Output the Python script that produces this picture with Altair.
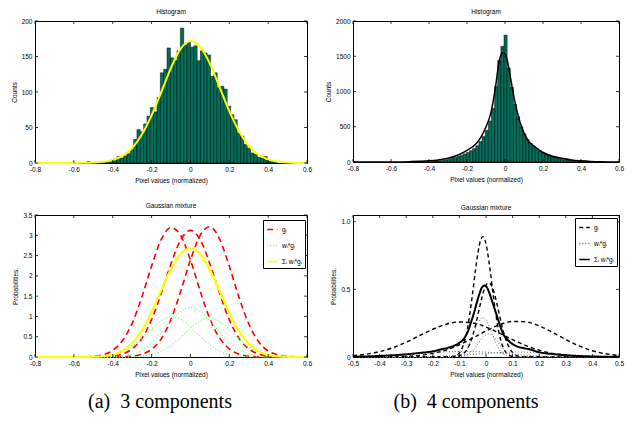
import altair as alt
import pandas as pd
import numpy as np

SANS = "Liberation Sans"
SERIF = "Liberation Serif"
FS = 6.5

# ---------------- (a) histogram ----------------
a_bin_width = 0.0172
a_first_center = -0.5246
a_counts = [2, 0, 1, 1, 2, 2, 3, 4, 6,
            9, 7, 10, 13, 19, 33, 47, 44, 55, 66, 78, 72, 92, 127, 132, 162, 148, 144, 158,
            190,
            166, 170, 163, 165, 144, 158, 155, 152, 122, 127, 106, 108, 104, 80, 68, 61, 42, 38,
            26, 21, 14, 12, 8, 7, 9, 5, 3, 2]
a_fit_x = [-0.8, -0.75, -0.7, -0.65, -0.6, -0.55, -0.5, -0.45, -0.4, -0.35, -0.3, -0.25, -0.2,
           -0.15, -0.1, -0.05, 0.0, 0.05, 0.1, 0.15, 0.2, 0.25, 0.3, 0.35, 0.4, 0.45, 0.5, 0.55, 0.6]
a_fit_y = [0, 0, 0, 0, 0, 0.2, 0.6, 1.6, 4.3, 10, 21, 40, 67,
           100, 134, 161, 172, 164, 140, 107, 73, 45, 24, 12, 5, 2, 0.6, 0.1, 0]

# ---------------- (b) histogram ----------------
b_bin_width = 0.0165
b_first_center = -0.492
b_counts = [2, 3, 4, 5, 6, 8, 10, 12, 15, 18, 22,
            30, 38, 50, 62, 78, 95, 115, 135, 160, 190, 230, 290, 360, 450, 580, 760, 1070, 1440, 1640,
            1800,
            1330, 1060, 820, 640, 500, 400, 320, 265, 225, 190, 155, 128, 105, 88, 72, 60, 50, 40, 33, 27,
            22, 17, 13, 10, 8, 6, 4, 3, 2, 1]
b_fit_x = [-0.8, -0.6, -0.5, -0.45, -0.4, -0.35, -0.3, -0.25, -0.2, -0.15, -0.125, -0.1, -0.075,
           -0.05, -0.03, -0.01, 0.01, 0.03, 0.05, 0.075, 0.1, 0.125, 0.15, 0.2, 0.25, 0.3, 0.35,
           0.4, 0.45, 0.5, 0.6]
b_fit_y = [0, 1, 5, 10, 17, 30, 52, 95, 165, 265, 360, 500, 690,
           1060, 1440, 1550, 1460, 1180, 880, 600, 410, 290, 230, 135, 82, 52, 30,
           17, 8, 3, 0]

# ---------------- (a) Gaussian mixture, 3 components ----------------
c_x = [-0.8, -0.75, -0.7, -0.65, -0.6, -0.55, -0.5, -0.45, -0.4, -0.35, -0.3, -0.25, -0.2,
       -0.15, -0.1, -0.05, 0.0, 0.05, 0.1, 0.15, 0.2, 0.25, 0.3, 0.35, 0.4, 0.45, 0.5, 0.55, 0.6]
c_g1 = [0, 0, 0, 0, 0, 0.003, 0.016, 0.057, 0.163, 0.40, 0.83, 1.48, 2.24, 2.90, 3.19, 2.99,
        2.39, 1.63, 0.94, 0.47, 0.20, 0.07, 0.02, 0.005, 0, 0, 0, 0, 0]
c_g2 = [0, 0, 0, 0, 0, 0, 0.0015, 0.006, 0.024, 0.075, 0.20, 0.46, 0.92, 1.57, 2.30, 2.89,
        3.12, 2.89, 2.30, 1.57, 0.92, 0.46, 0.20, 0.075, 0.024, 0.006, 0.0015, 0, 0]
c_g3 = [0, 0, 0, 0, 0, 0, 0, 0, 0, 0.005, 0.02, 0.07, 0.19, 0.45, 0.93, 1.62,
        2.39, 3.00, 3.21, 2.91, 2.24, 1.47, 0.82, 0.38, 0.15, 0.055, 0.015, 0.004, 0]
c_w1 = [0, 0, 0, 0, 0, 0.001, 0.005, 0.018, 0.05, 0.124, 0.257, 0.459, 0.694, 0.90, 0.99, 0.927,
        0.741, 0.505, 0.291, 0.146, 0.062, 0.022, 0.006, 0.002, 0, 0, 0, 0, 0]
c_w2 = [0, 0, 0, 0, 0, 0, 0.001, 0.002, 0.009, 0.029, 0.078, 0.179, 0.359, 0.612, 0.897, 1.127,
        1.217, 1.127, 0.897, 0.612, 0.359, 0.179, 0.078, 0.029, 0.009, 0.002, 0.001, 0, 0]
c_w3 = [0, 0, 0, 0, 0, 0, 0, 0, 0, 0.002, 0.006, 0.021, 0.057, 0.135, 0.279, 0.486,
        0.717, 0.90, 0.963, 0.873, 0.672, 0.441, 0.246, 0.114, 0.045, 0.017, 0.005, 0.001, 0]
c_sum = [0, 0, 0, 0, 0, 0.001, 0.006, 0.02, 0.059, 0.155, 0.341, 0.659, 1.11, 1.647, 2.166, 2.54,
         2.675, 2.532, 2.151, 1.631, 1.093, 0.642, 0.33, 0.145, 0.054, 0.019, 0.006, 0.001, 0]

# ---------------- (b) Gaussian mixture, 4 components ----------------
d_ga_x = [-0.5, -0.15, -0.13, -0.11, -0.1, -0.09, -0.08, -0.07, -0.06, -0.05, -0.04, -0.03, -0.02,
          -0.012, -0.004, 0.006, 0.016, 0.026, 0.036, 0.046, 0.056, 0.066, 0.076, 0.086, 0.106, 0.13, 0.5]
d_ga_y = [0, 0, 0.002, 0.014, 0.031, 0.064, 0.120, 0.207, 0.33, 0.476, 0.635, 0.773, 0.866,
          0.89, 0.866, 0.773, 0.635, 0.476, 0.33, 0.207, 0.120, 0.064, 0.031, 0.014, 0.002, 0, 0]
d_wa_y = [0, 0, 0.001, 0.005, 0.010, 0.021, 0.039, 0.067, 0.108, 0.155, 0.207, 0.252, 0.282,
          0.29, 0.282, 0.252, 0.207, 0.155, 0.108, 0.067, 0.039, 0.021, 0.010, 0.005, 0.001, 0, 0]
d_gb_x = [-0.5, -0.12, -0.1, -0.09, -0.08, -0.07, -0.06, -0.05, -0.04, -0.03, -0.02, -0.01, 0.0,
          0.01, 0.02, 0.03, 0.04, 0.05, 0.06, 0.07, 0.08, 0.09, 0.1, 0.11, 0.12, 0.14, 0.5]
d_gb_y = [0, 0.002, 0.008, 0.017, 0.033, 0.061, 0.101, 0.158, 0.230, 0.316, 0.403, 0.479, 0.531,
          0.55, 0.531, 0.479, 0.403, 0.316, 0.230, 0.158, 0.101, 0.061, 0.033, 0.017, 0.008, 0.002, 0]
d_wb_y = [0, 0.001, 0.002, 0.005, 0.010, 0.019, 0.031, 0.049, 0.071, 0.098, 0.125, 0.148, 0.165,
          0.171, 0.165, 0.148, 0.125, 0.098, 0.071, 0.049, 0.031, 0.019, 0.010, 0.005, 0.002, 0.001, 0]
d_broad_x = [-0.5, -0.45, -0.4, -0.35, -0.3, -0.25, -0.2, -0.15, -0.1, -0.05, 0.0,
             0.05, 0.1, 0.15, 0.2, 0.25, 0.3, 0.35, 0.4, 0.45, 0.5]
d_gc_y = [0.010, 0.021, 0.040, 0.069, 0.110, 0.158, 0.205, 0.242, 0.259, 0.252, 0.222,
          0.177, 0.128, 0.084, 0.050, 0.027, 0.013, 0.006, 0.002, 0.001, 0]
d_gd_y = [0, 0, 0.001, 0.002, 0.005, 0.012, 0.027, 0.052, 0.090, 0.139, 0.192,
          0.238, 0.263, 0.260, 0.230, 0.182, 0.129, 0.082, 0.046, 0.024, 0.011]
d_wc_y = [0.002, 0.003, 0.006, 0.011, 0.018, 0.025, 0.033, 0.039, 0.041, 0.040, 0.036,
          0.028, 0.020, 0.013, 0.008, 0.004, 0.002, 0.001, 0, 0, 0]
d_wd_y = [0, 0, 0, 0, 0.001, 0.002, 0.004, 0.007, 0.013, 0.019, 0.027,
          0.033, 0.037, 0.036, 0.032, 0.025, 0.018, 0.011, 0.006, 0.003, 0.002]
d_sum_x = [-0.5, -0.4, -0.3, -0.25, -0.2, -0.17, -0.14, -0.12, -0.1, -0.085, -0.075, -0.065,
           -0.055, -0.045, -0.035, -0.025, -0.015, -0.005, 0.005, 0.015, 0.025, 0.035, 0.045,
           0.055, 0.065, 0.08, 0.1, 0.115, 0.14, 0.165, 0.2, 0.25, 0.3, 0.4, 0.5]
d_sum_y = [0.002, 0.008, 0.02, 0.03, 0.042, 0.056, 0.07, 0.083, 0.105, 0.13, 0.16, 0.205,
           0.265, 0.327, 0.40, 0.465, 0.515, 0.528, 0.51, 0.46, 0.40, 0.34, 0.28,
           0.22, 0.17, 0.13, 0.095, 0.08, 0.066, 0.056, 0.035, 0.022, 0.013, 0.004, 0.001]

series_names = ["g\u1d62", "w\u1d62*g\u1d62", "\u03a3\u1d62 w\u1d62*g\u1d62"]
captions = ["(a)\u00a0 3 components", "(b)\u00a0 4 components"]

# tick values
x_ticks_a = [-0.8, -0.6, -0.4, -0.2, 0.0, 0.2, 0.4, 0.6]
x_ticks_b = [-0.5, -0.4, -0.3, -0.2, -0.1, 0.0, 0.1, 0.2, 0.3, 0.4, 0.5]
y_ticks_1 = [0, 50, 100, 150, 200]
y_ticks_2 = [0, 500, 1000, 1500, 2000]
y_ticks_3 = [0, 0.5, 1, 1.5, 2, 2.5, 3, 3.5]
y_ticks_4 = [0, 0.5, 1.0]

TEAL = "#00705a"
LBL1 = "datum.value == 0 ? '0' : (datum.value < 0 ? '-' + format(-datum.value, '.1f') : format(datum.value, '.1f'))"

W1, H1 = 272, 142
W2, H2 = 266, 141


def hist_df(first, width, counts):
    c = first + width * np.arange(len(counts))
    return pd.DataFrame({"x0": c - width / 2, "x1": c + width / 2, "n": counts})


def xaxis(vals):
    return alt.Axis(values=vals, labelExpr=LBL1, title="Pixel values (normalized)", ticks=False,
                    domain=False, grid=False, labelFlush=False, labelOverlap=False, titlePadding=5)


def yaxis(vals, title, expr):
    return alt.Axis(values=vals, labelExpr=expr, title=title, ticks=False, domain=False, grid=False,
                    labelOverlap=False, titlePadding=4, labelPadding=3)


def tick_layers(xs, ys, xax, yax, xvals, yvals, W, H, L=3):
    dx = pd.DataFrame({"t": xvals})
    dy = pd.DataFrame({"t": yvals})
    X = alt.X("t:Q", scale=xs, axis=xax)
    Y = alt.Y("t:Q", scale=ys, axis=yax)
    r = dict(color="black", strokeWidth=0.8)
    return [
        alt.Chart(dx).mark_rule(**r).encode(x=X, y=alt.value(0), y2=alt.value(L)),
        alt.Chart(dx).mark_rule(**r).encode(x=X, y=alt.value(H), y2=alt.value(H - L)),
        alt.Chart(dy).mark_rule(**r).encode(y=Y, x=alt.value(0), x2=alt.value(L)),
        alt.Chart(dy).mark_rule(**r).encode(y=Y, x=alt.value(W), x2=alt.value(W - L)),
    ]


def title(t):
    return alt.Title(t, fontSize=FS, font=SANS, fontWeight="normal", offset=3, frame="group")


# ---- panel 1
xs1 = alt.Scale(domain=[-0.8, 0.6], nice=False, zero=False)
ys1 = alt.Scale(domain=[0, 200], nice=False)
ax1 = xaxis(x_ticks_a)
ay1 = yaxis(y_ticks_1, "Counts", "format(datum.value, 'd')")
bars1 = alt.Chart(hist_df(a_first_center, a_bin_width, a_counts)).mark_bar(
    color=TEAL, stroke="black", strokeWidth=0.5).encode(
    x=alt.X("x0:Q", scale=xs1, axis=ax1),
    x2="x1:Q",
    y=alt.Y("n:Q", scale=ys1, axis=ay1),
    y2=alt.datum(0),
)
fit1 = alt.Chart(pd.DataFrame({"x": a_fit_x, "y": a_fit_y})).mark_line(
    color="#ffff00", strokeWidth=2, interpolate="monotone").encode(
    x=alt.X("x:Q", scale=xs1, axis=ax1), y=alt.Y("y:Q", scale=ys1, axis=ay1))
p1 = alt.layer(bars1, fit1, *tick_layers(xs1, ys1, ax1, ay1, x_ticks_a, y_ticks_1, W1, H1)).properties(
    width=W1, height=H1, title=title("Histogram"))

# ---- panel 2
xs2 = alt.Scale(domain=[-0.8, 0.6], nice=False, zero=False)
ys2 = alt.Scale(domain=[0, 2000], nice=False)
ax2 = xaxis(x_ticks_a)
ay2 = yaxis(y_ticks_2, "Counts", "format(datum.value, 'd')")
bars2 = alt.Chart(hist_df(b_first_center, b_bin_width, b_counts)).mark_bar(
    color=TEAL, stroke="black", strokeWidth=0.5).encode(
    x=alt.X("x0:Q", scale=xs2, axis=ax2),
    x2="x1:Q",
    y=alt.Y("n:Q", scale=ys2, axis=ay2),
    y2=alt.datum(0),
)
fit2 = alt.Chart(pd.DataFrame({"x": b_fit_x, "y": b_fit_y})).mark_line(
    color="black", strokeWidth=1.5, interpolate="monotone").encode(
    x=alt.X("x:Q", scale=xs2, axis=ax2), y=alt.Y("y:Q", scale=ys2, axis=ay2))
p2 = alt.layer(bars2, fit2, *tick_layers(xs2, ys2, ax2, ay2, x_ticks_a, y_ticks_2, W2, H2)).properties(
    width=W2, height=H2, title=title("Histogram"))


def long_df(parts, widths):
    frames = []
    for series, comp, xs, ys in parts:
        frames.append(pd.DataFrame({"series": series, "comp": comp, "x": xs, "y": ys,
                                    "sw": widths[series_names.index(series)]}))
    return pd.concat(frames, ignore_index=True)


def mixture_lines(df, xs, ys, xax, yax, colors, dashes, lx, ly):
    leg = alt.Legend(title=None, orient="none", legendX=lx, legendY=ly, symbolType="stroke",
                     symbolStrokeWidth=1.6)
    return alt.Chart(df).mark_line(interpolate="monotone").encode(
        x=alt.X("x:Q", scale=xs, axis=xax),
        y=alt.Y("y:Q", scale=ys, axis=yax),
        detail="comp:N",
        color=alt.Color("series:N", scale=alt.Scale(domain=series_names, range=colors), legend=leg),
        strokeDash=alt.StrokeDash("series:N", scale=alt.Scale(domain=series_names, range=dashes), legend=leg),
        strokeWidth=alt.StrokeWidth("sw:Q", scale=None),
    )


def caption_layer(text, x, y):
    return alt.Chart(pd.DataFrame({"cap": [text]})).mark_text(
        font=SERIF, fontSize=20, align="center", baseline="middle", color="black").encode(
        text="cap:N", x=alt.value(x), y=alt.value(y))


# ---- panel 3
xs3 = alt.Scale(domain=[-0.8, 0.6], nice=False, zero=False)
ys3 = alt.Scale(domain=[0, 3.5], nice=False)
ax3 = xaxis(x_ticks_a)
ay3 = yaxis(y_ticks_3, "Probabilities.", "format(datum.value, '~g')")
df3 = long_df([
    (series_names[0], "g1", c_x, c_g1), (series_names[0], "g2", c_x, c_g2), (series_names[0], "g3", c_x, c_g3),
    (series_names[1], "w1", c_x, c_w1), (series_names[1], "w2", c_x, c_w2), (series_names[1], "w3", c_x, c_w3),
    (series_names[2], "s", c_x, c_sum),
], [1.6, 1.2, 2.2])
lines3 = mixture_lines(df3, xs3, ys3, ax3, ay3,
                       ["#ff0000", "#70ff70", "#ffff00"], [[6, 4], [1, 2], [1, 0]], 228, 5)
p3 = alt.layer(lines3, *tick_layers(xs3, ys3, ax3, ay3, x_ticks_a, y_ticks_3, W1, H1),
               caption_layer(captions[0], 125, 187)).properties(
    width=W1, height=H1, title=title("Gaussian mixture"))

# ---- panel 4
xs4 = alt.Scale(domain=[-0.5, 0.5], nice=False, zero=False)
ys4 = alt.Scale(domain=[0, 1.05], nice=False)
ax4 = xaxis(x_ticks_b)
ay4 = yaxis(y_ticks_4, "Probabilities.", "datum.value == 0 ? '0' : format(datum.value, '.1f')")
df4 = long_df([
    (series_names[0], "ga", d_ga_x, d_ga_y), (series_names[0], "gb", d_gb_x, d_gb_y),
    (series_names[0], "gc", d_broad_x, d_gc_y), (series_names[0], "gd", d_broad_x, d_gd_y),
    (series_names[1], "wa", d_ga_x, d_wa_y), (series_names[1], "wb", d_gb_x, d_wb_y),
    (series_names[1], "wc", d_broad_x, d_wc_y), (series_names[1], "wd", d_broad_x, d_wd_y),
    (series_names[2], "s", d_sum_x, d_sum_y),
], [1.4, 1.0, 2.0])
lines4 = mixture_lines(df4, xs4, ys4, ax4, ay4,
                       ["black", "#666666", "black"], [[4, 3], [1, 2], [1, 0]], 222, 3)
p4 = alt.layer(lines4, *tick_layers(xs4, ys4, ax4, ay4, x_ticks_b, y_ticks_4, W2, H1),
               caption_layer(captions[1], 113, 187)).properties(
    width=W2, height=H1, title=title("Gaussian mixture"))

chart = alt.concat(p1, p2, p3, p4, columns=2, spacing={"row": 52, "column": 46}, bounds="flush").resolve_scale(
    color="independent", strokeDash="independent"
).resolve_legend(
    color="independent", strokeDash="independent"
).properties(
    padding={"left": 2, "top": 0, "right": 0, "bottom": 0}
).configure_view(stroke="black", strokeWidth=1).configure_axis(
    labelFont=SANS, titleFont=SANS, labelFontSize=FS, titleFontSize=FS, labelColor="black",
    titleColor="black", titleFontWeight="normal", labelPadding=3
).configure_legend(
    fillColor="white", strokeColor="black", padding=3, labelFont=SANS, labelFontSize=6.5,
    labelColor="black", symbolSize=110, rowPadding=6, labelOffset=3, labelLimit=80
)

chart.save("out.html", embed_options={"renderer": "svg", "actions": False})
